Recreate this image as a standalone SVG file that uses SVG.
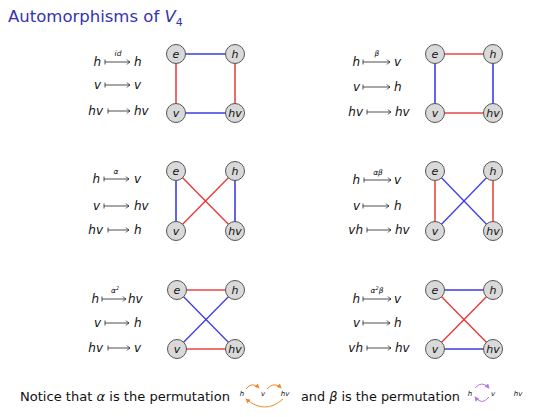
<svg xmlns="http://www.w3.org/2000/svg" width="539" height="417" viewBox="0 0 539 417">
<style>
.title{font-family:"DejaVu Sans","Liberation Sans",sans-serif;font-size:16.5px;fill:#3333b3}
.m{font-family:"DejaVu Sans","Liberation Sans",sans-serif;font-style:oblique;font-size:12px;fill:#111}
.lab{font-family:"DejaVu Sans","Liberation Sans",sans-serif;font-style:oblique;font-size:7.5px;fill:#111;text-anchor:middle}
.nl{font-family:"DejaVu Sans","Liberation Sans",sans-serif;font-style:oblique;font-size:11px;fill:#111;text-anchor:middle}
.body{font-family:"DejaVu Sans","Liberation Sans",sans-serif;font-size:13px;fill:#111}
.pl{font-family:"DejaVu Sans","Liberation Sans",sans-serif;font-style:oblique;font-size:7px;fill:#111;text-anchor:middle}
.e{text-anchor:end}
.arr{fill:none;stroke:#222;stroke-width:0.8}
.node circle{fill:#d9d9d9;stroke:#555;stroke-width:1}
.b{stroke:#3d3de6;stroke-width:1.6}
.r{stroke:#e84545;stroke-width:1.6}
.bd{stroke:#3d3de6;stroke-width:1.3}
.rd{stroke:#e83535;stroke-width:1.3}
.orc{fill:none;stroke:#f08a2a;stroke-width:1}
.pur{fill:none;stroke:#b878e8;stroke-width:1}
</style>
<defs>
<marker id="ao" viewBox="0 0 6 6" refX="5" refY="3" markerWidth="5" markerHeight="5" orient="auto"><path d="M0,0 L6,3 L0,6 z" fill="#f08a2a"/></marker>
<marker id="ap" viewBox="0 0 6 6" refX="5" refY="3" markerWidth="5" markerHeight="5" orient="auto"><path d="M0,0 L6,3 L0,6 z" fill="#b878e8"/></marker>
</defs>

<text class="title" x="8" y="22">Automorphisms of <tspan font-style="oblique">V</tspan><tspan font-size="11" dy="4">4</tspan></text>

<!-- mapping labels -->
<g id="map-id">
<text class="m e" x="101" y="66">h</text><path class="arr" d="M105,59.5v5M105,62H130M127,59.5Q128.5,61.5 130,62Q128.5,62.5 127,64.5"/><text class="lab" x="118" y="56">id</text><text class="m" x="134" y="66">h</text>
<text class="m e" x="101" y="89">v</text><path class="arr" d="M105,82.5v5M105,85H130M127,82.5Q128.5,84.5 130,85Q128.5,85.5 127,87.5"/><text class="m" x="134" y="89">v</text>
<text class="m e" x="103" y="115">hv</text><path class="arr" d="M108,108.5v5M108,111H130M127,108.5Q128.5,110.5 130,111Q128.5,111.5 127,113.5"/><text class="m" x="134" y="115">hv</text>
</g>
<g id="map-beta">
<text class="m e" x="360" y="66">h</text><path class="arr" d="M363,59.5v5M363,62H390M387,59.5Q388.5,61.5 390,62Q388.5,62.5 387,64.5"/><text class="lab" x="377" y="56">β</text><text class="m" x="394" y="66">v</text>
<text class="m e" x="360" y="91">v</text><path class="arr" d="M363,84.5v5M363,87H390M387,84.5Q388.5,86.5 390,87Q388.5,87.5 387,89.5"/><text class="m" x="394" y="91">h</text>
<text class="m e" x="363" y="116">hv</text><path class="arr" d="M367,109.5v5M367,112H391M388,109.5Q389.5,111.5 391,112Q389.5,112.5 388,114.5"/><text class="m" x="395" y="116">hv</text>
</g>
<g id="map-alpha">
<text class="m e" x="100" y="183">h</text><path class="arr" d="M104,176.5v5M104,179H129M126,176.5Q127.5,178.5 129,179Q127.5,179.5 126,181.5"/><text class="lab" x="116" y="174">α</text><text class="m" x="134" y="183">v</text>
<text class="m e" x="100" y="210">v</text><path class="arr" d="M104,203.5v5M104,206H129M126,203.5Q127.5,205.5 129,206Q127.5,206.5 126,208.5"/><text class="m" x="134" y="210">hv</text>
<text class="m e" x="103" y="234">hv</text><path class="arr" d="M108,227.5v5M108,230H129M126,227.5Q127.5,229.5 129,230Q127.5,230.5 126,232.5"/><text class="m" x="134" y="234">h</text>
</g>
<g id="map-alphabeta">
<text class="m e" x="360" y="184">h</text><path class="arr" d="M364,177.5v5M364,180H391M388,177.5Q389.5,179.5 391,180Q389.5,180.5 388,182.5"/><text class="lab" x="378" y="175">αβ</text><text class="m" x="394" y="184">v</text>
<text class="m e" x="360" y="210">v</text><path class="arr" d="M363,203.5v5M363,206H389M386,203.5Q387.5,205.5 389,206Q387.5,206.5 386,208.5"/><text class="m" x="394" y="210">h</text>
<text class="m e" x="363" y="234">vh</text><path class="arr" d="M367,227.5v5M367,230H391M388,227.5Q389.5,229.5 391,230Q389.5,230.5 388,232.5"/><text class="m" x="395" y="234">hv</text>
</g>
<g id="map-alpha2">
<text class="m e" x="99" y="303">h</text><path class="arr" d="M102,296.5v5M102,299H126M123,296.5Q124.5,298.5 126,299Q124.5,299.5 123,301.5"/><text class="lab" x="115" y="293">α<tspan font-size="5" dy="-3">2</tspan></text><text class="m" x="128" y="303">hv</text>
<text class="m e" x="101" y="327">v</text><path class="arr" d="M105,320.5v5M105,323H129M126,320.5Q127.5,322.5 129,323Q127.5,323.5 126,325.5"/><text class="m" x="134" y="327">h</text>
<text class="m e" x="103" y="352">hv</text><path class="arr" d="M108,345.5v5M108,348H130M127,345.5Q128.5,347.5 130,348Q128.5,348.5 127,350.5"/><text class="m" x="134" y="352">v</text>
</g>
<g id="map-alpha2beta">
<text class="m e" x="360" y="303">h</text><path class="arr" d="M363,296.5v5M363,299H391M388,296.5Q389.5,298.5 391,299Q389.5,299.5 388,301.5"/><text class="lab" x="377" y="293">α<tspan font-size="5" dy="-3">2</tspan><tspan dy="3">β</tspan></text><text class="m" x="394" y="303">v</text>
<text class="m e" x="360" y="327">v</text><path class="arr" d="M363,320.5v5M363,323H390M387,320.5Q388.5,322.5 390,323Q388.5,323.5 387,325.5"/><text class="m" x="394" y="327">h</text>
<text class="m e" x="363" y="352">vh</text><path class="arr" d="M367,345.5v5M367,348H391M388,345.5Q389.5,347.5 391,348Q389.5,348.5 388,350.5"/><text class="m" x="395" y="352">hv</text>
</g>

<!-- connectors -->
<g id="connectors">
<line class="b" x1="176" y1="54" x2="235" y2="54"/><line class="b" x1="176" y1="113" x2="235" y2="113"/>
<line class="r" x1="176" y1="54" x2="176" y2="113"/><line class="r" x1="235" y1="54" x2="235" y2="113"/>

<line class="r" x1="435" y1="54" x2="493" y2="54"/><line class="r" x1="435" y1="113" x2="493" y2="113"/>
<line class="b" x1="435" y1="54" x2="435" y2="113"/><line class="b" x1="493" y1="54" x2="493" y2="113"/>

<line class="b" x1="176" y1="171" x2="176" y2="231"/><line class="b" x1="235" y1="171" x2="235" y2="231"/>
<line class="rd" x1="176" y1="171" x2="235" y2="231"/><line class="rd" x1="235" y1="171" x2="176" y2="231"/>

<line class="r" x1="435" y1="171" x2="435" y2="231"/><line class="r" x1="493" y1="171" x2="493" y2="231"/>
<line class="bd" x1="435" y1="171" x2="493" y2="231"/><line class="bd" x1="493" y1="171" x2="435" y2="231"/>

<line class="r" x1="177" y1="290" x2="235" y2="290"/><line class="r" x1="177" y1="349" x2="235" y2="349"/>
<line class="bd" x1="177" y1="290" x2="235" y2="349"/><line class="bd" x1="235" y1="290" x2="177" y2="349"/>

<line class="b" x1="435" y1="290" x2="493" y2="290"/><line class="b" x1="435" y1="349" x2="493" y2="349"/>
<line class="rd" x1="435" y1="290" x2="493" y2="349"/><line class="rd" x1="493" y1="290" x2="435" y2="349"/>
</g>

<!-- nodes -->
<g id="p1-e" class="node"><circle cx="176" cy="54" r="9.5"/><text class="nl" x="176" y="58">e</text></g>
<g id="p1-h" class="node"><circle cx="235" cy="54" r="9.5"/><text class="nl" x="235" y="58">h</text></g>
<g id="p1-v" class="node"><circle cx="176" cy="113" r="9.5"/><text class="nl" x="176" y="117">v</text></g>
<g id="p1-hv" class="node"><circle cx="235" cy="113" r="9.5"/><text class="nl" x="235" y="117">hv</text></g>

<g id="p2-e" class="node"><circle cx="435" cy="54" r="9.5"/><text class="nl" x="435" y="58">e</text></g>
<g id="p2-h" class="node"><circle cx="493" cy="54" r="9.5"/><text class="nl" x="493" y="58">h</text></g>
<g id="p2-v" class="node"><circle cx="435" cy="113" r="9.5"/><text class="nl" x="435" y="117">v</text></g>
<g id="p2-hv" class="node"><circle cx="493" cy="113" r="9.5"/><text class="nl" x="493" y="117">hv</text></g>

<g id="p3-e" class="node"><circle cx="176" cy="171" r="9.5"/><text class="nl" x="176" y="175">e</text></g>
<g id="p3-h" class="node"><circle cx="235" cy="171" r="9.5"/><text class="nl" x="235" y="175">h</text></g>
<g id="p3-v" class="node"><circle cx="176" cy="231" r="9.5"/><text class="nl" x="176" y="235">v</text></g>
<g id="p3-hv" class="node"><circle cx="235" cy="231" r="9.5"/><text class="nl" x="235" y="235">hv</text></g>

<g id="p4-e" class="node"><circle cx="435" cy="171" r="9.5"/><text class="nl" x="435" y="175">e</text></g>
<g id="p4-h" class="node"><circle cx="493" cy="171" r="9.5"/><text class="nl" x="493" y="175">h</text></g>
<g id="p4-v" class="node"><circle cx="435" cy="231" r="9.5"/><text class="nl" x="435" y="235">v</text></g>
<g id="p4-hv" class="node"><circle cx="493" cy="231" r="9.5"/><text class="nl" x="493" y="235">hv</text></g>

<g id="p5-e" class="node"><circle cx="177" cy="290" r="9.5"/><text class="nl" x="177" y="294">e</text></g>
<g id="p5-h" class="node"><circle cx="235" cy="290" r="9.5"/><text class="nl" x="235" y="294">h</text></g>
<g id="p5-v" class="node"><circle cx="177" cy="349" r="9.5"/><text class="nl" x="177" y="353">v</text></g>
<g id="p5-hv" class="node"><circle cx="235" cy="349" r="9.5"/><text class="nl" x="235" y="353">hv</text></g>

<g id="p6-e" class="node"><circle cx="435" cy="290" r="9.5"/><text class="nl" x="435" y="294">e</text></g>
<g id="p6-h" class="node"><circle cx="493" cy="290" r="9.5"/><text class="nl" x="493" y="294">h</text></g>
<g id="p6-v" class="node"><circle cx="435" cy="349" r="9.5"/><text class="nl" x="435" y="353">v</text></g>
<g id="p6-hv" class="node"><circle cx="493" cy="349" r="9.5"/><text class="nl" x="493" y="353">hv</text></g>

<!-- footnote -->
<text class="body" x="20" y="401" textLength="210" lengthAdjust="spacingAndGlyphs">Notice that <tspan font-style="oblique">α</tspan> is the permutation</text>
<g id="perm-alpha">
<text class="pl" x="242" y="396">h</text><text class="pl" x="263" y="396">v</text><text class="pl" x="285" y="396">hv</text>
<path class="orc" d="M246,389 Q252,381 259,388" marker-end="url(#ao)"/>
<path class="orc" d="M267,389 Q274,381 281,388" marker-end="url(#ao)"/>
<path class="orc" d="M283,399 Q265,415 246,399" marker-end="url(#ao)"/>
</g>
<text class="body" x="301" y="401" textLength="159" lengthAdjust="spacingAndGlyphs">and <tspan font-style="oblique">β</tspan> is the permutation</text>
<g id="perm-beta">
<text class="pl" x="470" y="396">h</text><text class="pl" x="493" y="396">v</text><text class="pl" x="518" y="396">hv</text>
<path class="pur" d="M475,388 Q482,380 489,388" marker-end="url(#ap)"/>
<path class="pur" d="M489,397 Q482,406 475,397" marker-end="url(#ap)"/>
</g>
</svg>
